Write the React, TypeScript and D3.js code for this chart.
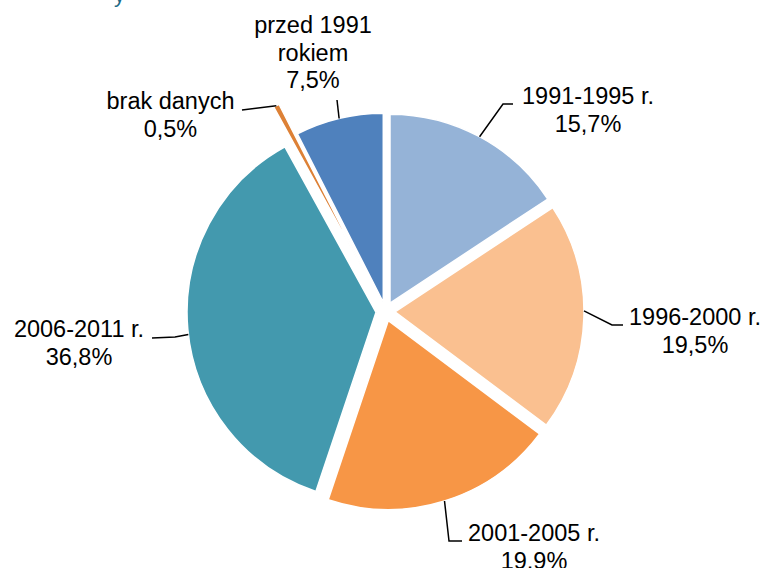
import React from "react";
import * as d3 from "d3";

const categories = ["1991-1995 r.", "1996-2000 r.", "2001-2005 r.", "2006-2011 r.", "brak danych", "przed 1991 rokiem"];
const labelLines = [["1991-1995 r."], ["1996-2000 r."], ["2001-2005 r."], ["2006-2011 r."], ["brak danych"], ["przed 1991", "rokiem"]];
const values = [15.7, 19.5, 19.9, 36.8, 0.5, 7.5];
const colors = ["#95B3D7", "#FAC090", "#F79646", "#4399AE", "#DD8136", "#4F81BD"];

// layout
const W = 766, H = 568;
const cx = 385.5, cy = 311.5, R = 189;
const explode = [9.5, 9.5, 9.5, 9.5, 44, 9.5];
// label layout: leader start angle shift (deg), elbow points, label center x, first baseline y
const labelLayout = [
  { shift: 0, elbow: [[503, 104], [513, 104]], x: 588, y: 104 },
  { shift: -2, elbow: [[612, 325], [623, 325]], x: 695, y: 325 },
  { shift: 0, elbow: [[449, 541], [462, 541]], x: 534, y: 541 },
  { shift: -1.6, elbow: [[175, 337], [152, 338]], x: 79, y: 337 },
  { shift: 0, elbow: [[242, 110]], x: 170.5, y: 109 },
  { shift: 0, elbow: [[337, 100]], x: 313, y: 33 },
];
const fontSize = 23.5;
const lineH = 27.5;

export default function App() {
  const pie = d3.pie<number>().sort(null).value((d) => d);
  const arcs = pie(values);
  const arc = d3.arc<d3.PieArcDatum<number>>().innerRadius(0).outerRadius(R);

  return (
    <svg width={W} height={H} style={{ position: "fixed", left: 0, top: 0, background: "#fff" }}
      fontFamily="'Liberation Sans', Arial, sans-serif">
      <text x={114} y={2} fontSize={22} fill="#1F6A86">y</text>
      {arcs.map((a, i) => {
        const mid = (a.startAngle + a.endAngle) / 2;
        const ox = Math.sin(mid) * explode[i];
        const oy = -Math.cos(mid) * explode[i];
        return (
          <path key={categories[i]} d={arc(a) || ""} transform={`translate(${cx + ox},${cy + oy})`}
            fill={colors[i]} stroke="#fff" strokeWidth={1.5} strokeLinejoin="round" />
        );
      })}
      {arcs.map((a, i) => {
        const mid = (a.startAngle + a.endAngle) / 2;
        const L = labelLayout[i];
        const ang = mid + (L.shift * Math.PI) / 180;
        const ox = cx + Math.sin(mid) * explode[i];
        const oy = cy - Math.cos(mid) * explode[i];
        const sx = ox + Math.sin(ang) * R;
        const sy = oy - Math.cos(ang) * R;
        const pts = [[sx, sy], ...L.elbow];
        const pct = values[i].toFixed(1).replace(".", ",") + "%";
        const lines = [...labelLines[i], pct];
        return (
          <g key={"l" + i}>
            <path d={d3.line()(pts as [number, number][]) || ""} fill="none" stroke="#000" strokeWidth={1.5} />
            <text textAnchor="middle" fontSize={fontSize} fill="#000">
              {lines.map((t, j) => (
                <tspan key={j} x={L.x} y={L.y + j * lineH}>{t}</tspan>
              ))}
            </text>
          </g>
        );
      })}
    </svg>
  );
}
